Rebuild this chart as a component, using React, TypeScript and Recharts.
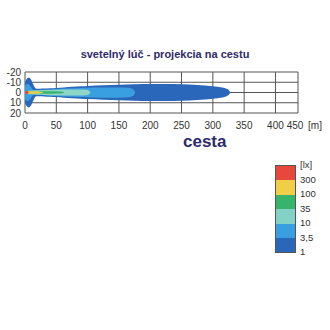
import { ComposedChart, Area, XAxis, YAxis, CartesianGrid } from "recharts"

// beam contours: distance [m] and half-width [m] of each lux level
const DIST_1 = [-3, -1, 1, 3, 5, 7, 9, 11, 13, 15, 17, 20, 25, 30, 40, 50, 62, 75, 90, 100, 125, 150, 175, 200, 225, 250, 275, 300, 315, 322, 326, 328]
const HALF_1 = [0, 8, 11.5, 13.5, 14.3, 14.3, 13.2, 11, 8, 5.5, 4, 3.6, 3.7, 3.9, 4.2, 4.5, 5, 5.5, 6, 6.3, 7, 7.6, 8, 8.3, 8.3, 8, 7.3, 6, 4.8, 3.6, 2, 0]

const DIST_35 = [-1.5, 0, 2, 4, 6, 8, 10, 12, 14, 17, 20, 25, 30, 40, 50, 62, 75, 90, 100, 125, 150, 165, 171, 174, 176]
const HALF_35 = [0, 6, 7.8, 8.2, 7.8, 6.6, 4.8, 3.2, 2.3, 2, 2.1, 2.4, 2.6, 3.1, 3.4, 3.8, 4.1, 4.5, 4.7, 5, 5, 4.6, 3.7, 2.4, 0]

const DIST_10 = [1.5, 3, 5, 8, 14, 20, 30, 50, 75, 90, 98, 102, 104.5]
const HALF_10 = [0, 1.3, 1.7, 1.8, 2, 2.2, 2.4, 2.7, 3, 3, 2.8, 2, 0]

const DIST_35LX = [3, 5, 15, 30, 45, 55, 60, 62.5]
const HALF_35LX = [0, 0.9, 1, 1.1, 1.1, 1, 0.7, 0]

const DIST_100 = [2, 4, 10, 16, 22, 27, 30]
const HALF_100 = [0, 1.2, 1.2, 1.1, 0.9, 0.5, 0]

const DIST_300 = [0, 1.5, 3, 4.5, 6]
const HALF_300 = [0, 1.5, 1.6, 1.1, 0]

const X_TICKS = [0, 50, 100, 150, 200, 250, 300, 350, 400, 436]
const Y_TICKS = [-20, -10, 0, 10, 20]

const LEGEND_COLORS = ["#e8473b", "#f1ce48", "#37b46b", "#84d2c5", "#3a9fe0", "#2a67ba"]
const LEGEND_LABELS = ["[lx]", "300", "100", "35", "10", "3,5", "1"]

const CONTOURS = [
  { key: "c1", dist: DIST_1, half: HALF_1, color: "#2a67ba" },
  { key: "c35", dist: DIST_35, half: HALF_35, color: "#3a9fe0" },
  { key: "c10", dist: DIST_10, half: HALF_10, color: "#8fd6c9" },
  { key: "c35lx", dist: DIST_35LX, half: HALF_35LX, color: "#37b46b" },
  { key: "c100", dist: DIST_100, half: HALF_100, color: "#e6d04c" },
  { key: "c300", dist: DIST_300, half: HALF_300, color: "#e8473b" },
]

function buildRows() {
  const all = new Set<number>()
  CONTOURS.forEach((c) => c.dist.forEach((d) => all.add(d)))
  const xs = Array.from(all).sort((a, b) => a - b)
  return xs.map((d) => {
    const row: Record<string, any> = { d }
    CONTOURS.forEach((c) => {
      const i = c.dist.indexOf(d)
      row[c.key] = i >= 0 ? [-c.half[i], c.half[i]] : null
    })
    return row
  })
}

const rows = buildRows()
const FONT = "'Liberation Sans', Arial, sans-serif"

function XTick(props: any) {
  const { x, y, payload } = props
  const last = payload.value === 436
  return (
    <g>
      <text x={last ? x - 3 : x} y={y + 8} textAnchor="middle" fontSize={10} fill="#333" fontFamily={FONT}>
        {last ? "450" : payload.value}
      </text>
      {last && (
        <text x={x + 17} y={y + 8} textAnchor="middle" fontSize={10} fill="#333" fontFamily={FONT}>
          [m]
        </text>
      )}
    </g>
  )
}

export default function App() {
  return (
    <div style={{ position: "absolute", left: 0, top: 0, width: 330, height: 330, background: "#fff", fontFamily: FONT }}>
      <div style={{ position: "absolute", top: 47, left: 0, width: 330, textAlign: "center", fontSize: 11, fontWeight: "bold", color: "#2e2a6b", lineHeight: "14px" }}>
        svetelný lúč - projekcia na cestu
      </div>
      <div style={{ position: "absolute", left: 0, top: 0 }}>
        <ComposedChart width={330} height={140} data={rows} margin={{ top: 72, right: 32, left: 0, bottom: 7 }}>
          <CartesianGrid stroke="#555" strokeWidth={1} />
          <XAxis
            dataKey="d"
            type="number"
            domain={[0, 436]}
            allowDataOverflow
            ticks={X_TICKS}
            interval={0}
            axisLine={false}
            tickLine={false}
            tick={<XTick />}
            height={20}
          />
          <YAxis
            type="number"
            domain={[-20, 20]}
            reversed
            allowDataOverflow
            ticks={Y_TICKS}
            axisLine={false}
            tickLine={false}
            tickSize={0}
            tickMargin={4}
            width={25}
            tick={{ fontSize: 10, fill: "#333", fontFamily: FONT }}
            interval={0}
          />
          {CONTOURS.map((c) => (
            <Area
              key={c.key}
              dataKey={c.key}
              type="monotone"
              stroke="none"
              fill={c.color}
              fillOpacity={1}
              connectNulls
              isAnimationActive={false}
              dot={false}
              activeDot={false}
            />
          ))}
        </ComposedChart>
      </div>
      <div style={{ position: "absolute", left: 183, top: 132, fontSize: 17, fontWeight: "bold", color: "#2e2a6b" }}>cesta</div>
      <div style={{ position: "absolute", left: 275, top: 165, width: 19, border: "1px solid #555" }}>
        {LEGEND_COLORS.map((c) => (
          <div key={c} style={{ height: 14.4, background: c }} />
        ))}
      </div>
      {LEGEND_LABELS.map((l, i) => (
        <div key={l} style={{ position: "absolute", left: 300, top: 159 + i * 14.5, fontSize: 9.5, color: "#333", lineHeight: "12px" }}>
          {l}
        </div>
      ))}
    </div>
  )
}
